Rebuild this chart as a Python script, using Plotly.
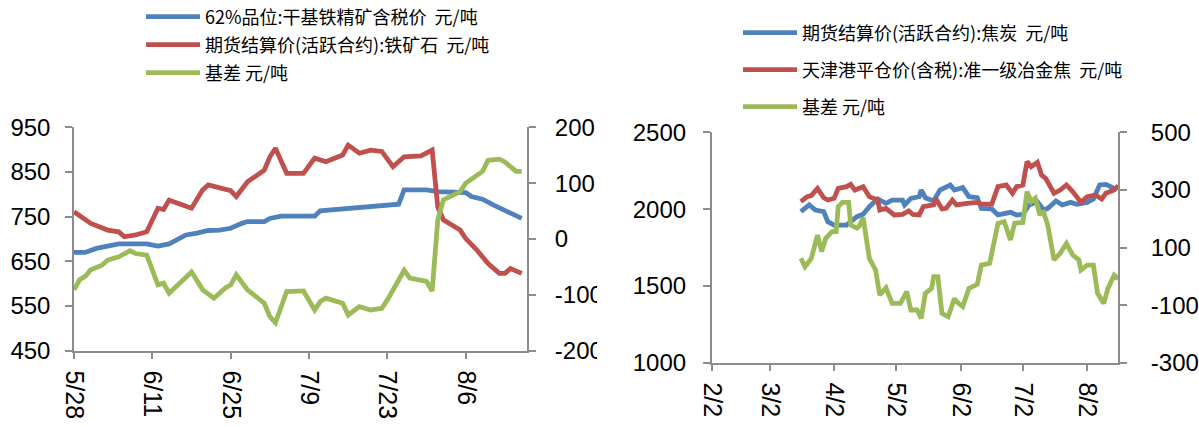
import plotly.graph_objects as go

# ---------------- Left chart: iron ore ----------------
ore_spot_dates = ["2019-05-28","2019-05-30","2019-06-01","2019-06-03","2019-06-05","2019-06-10","2019-06-12",
                  "2019-06-14","2019-06-17","2019-06-19","2019-06-21","2019-06-23","2019-06-25","2019-06-27",
                  "2019-06-28","2019-07-01","2019-07-02","2019-07-04","2019-07-10","2019-07-11","2019-07-14",
                  "2019-07-18","2019-07-23","2019-07-25","2019-07-26","2019-07-30","2019-08-01","2019-08-06",
                  "2019-08-07","2019-08-09","2019-08-11","2019-08-13","2019-08-14","2019-08-16"]
ore_spot = [670,670,679,683,689,689,684,689,709,713,719,720,724,735,739,739,746,751,751,763,766,
            770,774,778,810,810,806,804,795,789,776,765,759,746]

ore_fut_dates = ["2019-05-28","2019-05-30","2019-05-31","2019-06-03","2019-06-05","2019-06-06","2019-06-08",
                 "2019-06-10","2019-06-11","2019-06-12","2019-06-13","2019-06-14","2019-06-18","2019-06-20",
                 "2019-06-21","2019-06-24","2019-06-25","2019-06-26","2019-06-28","2019-07-01","2019-07-02",
                 "2019-07-03","2019-07-05","2019-07-08","2019-07-10","2019-07-12","2019-07-15","2019-07-16",
                 "2019-07-18","2019-07-20","2019-07-22","2019-07-24","2019-07-26","2019-07-29","2019-07-31",
                 "2019-08-01","2019-08-02","2019-08-05","2019-08-06","2019-08-08","2019-08-10","2019-08-12",
                 "2019-08-13","2019-08-14","2019-08-16"]
ore_fut = [761,743,735,720,716,705,709,716,743,769,766,787,769,810,821,810,808,795,828,854,884,
           903,847,847,881,873,888,910,892,899,896,862,884,886,899,772,743,720,701,675,645,623,
           623,634,623]

ore_basis_dates = ["2019-05-28","2019-05-29","2019-05-30","2019-05-31","2019-06-02","2019-06-03","2019-06-05",
                   "2019-06-07","2019-06-08","2019-06-10","2019-06-12","2019-06-13","2019-06-14","2019-06-18",
                   "2019-06-20","2019-06-22","2019-06-24","2019-06-25","2019-06-26","2019-06-28","2019-07-01",
                   "2019-07-02","2019-07-03","2019-07-05","2019-07-08","2019-07-10","2019-07-11","2019-07-12",
                   "2019-07-15","2019-07-16","2019-07-18","2019-07-20","2019-07-22","2019-07-23","2019-07-26",
                   "2019-07-27","2019-07-30","2019-07-31","2019-08-01","2019-08-02","2019-08-05","2019-08-06",
                   "2019-08-09","2019-08-10","2019-08-12","2019-08-13","2019-08-15","2019-08-16"]
ore_basis = [-91,-73,-67,-55,-47,-38,-32,-21,-26,-29,-82,-79,-97,-59,-91,-106,-88,-82,-64,-91,-115,
             -139,-150,-94,-93,-127,-112,-106,-115,-136,-121,-127,-124,-109,-56,-70,-76,-93,34,70,85,100,
             121,141,143,138,121,121]

# ---------------- Right chart: coke ----------------
coke_fut_dates = ["2019-03-17","2019-03-21","2019-03-24","2019-03-28","2019-03-30","2019-04-02","2019-04-08",
                  "2019-04-13","2019-04-16","2019-04-19","2019-04-23","2019-04-27","2019-04-30","2019-05-05",
                  "2019-05-06","2019-05-09","2019-05-13","2019-05-14","2019-05-16","2019-05-20","2019-05-23",
                  "2019-05-28","2019-05-30","2019-06-03","2019-06-06","2019-06-10","2019-06-12","2019-06-17",
                  "2019-06-20","2019-06-26","2019-06-29","2019-07-02","2019-07-05","2019-07-09","2019-07-12",
                  "2019-07-14","2019-07-18","2019-07-21","2019-07-25","2019-07-28","2019-08-02","2019-08-05",
                  "2019-08-08","2019-08-11","2019-08-15"]
coke_fut = [1983,2027,1994,1983,1918,1896,1896,1951,1966,2016,2066,2038,2059,2059,2027,2070,2081,
            2124,2074,2053,2124,2157,2124,2140,2081,2074,2005,2001,1962,1979,1962,1966,2027,2048,
            1994,2005,2053,2027,2044,2031,2044,2066,2157,2161,2135]

coke_spot_dates = ["2019-03-17","2019-03-20","2019-03-22","2019-03-25","2019-03-28","2019-03-30","2019-04-02",
                   "2019-04-04","2019-04-08","2019-04-10","2019-04-12","2019-04-16","2019-04-19","2019-04-23",
                   "2019-04-24","2019-04-27","2019-05-01","2019-05-05","2019-05-08","2019-05-10","2019-05-13",
                   "2019-05-15","2019-05-20","2019-05-21","2019-05-24","2019-05-26","2019-05-29","2019-05-31",
                   "2019-06-05","2019-06-10","2019-06-12","2019-06-17","2019-06-20","2019-06-24","2019-06-27",
                   "2019-06-29","2019-07-02","2019-07-04","2019-07-06","2019-07-09","2019-07-11","2019-07-13",
                   "2019-07-17","2019-07-20","2019-07-23","2019-07-26","2019-07-30","2019-08-02","2019-08-06",
                   "2019-08-09","2019-08-11","2019-08-15","2019-08-17"]
coke_spot = [2048,2081,2088,2135,2074,2059,2070,2135,2146,2161,2124,2146,2081,2059,1994,2005,1962,
             1966,1988,1965,1962,2016,2027,2070,2001,2005,2059,2027,2038,2044,2033,2033,2146,2157,
             2103,2146,2157,2309,2276,2305,2222,2200,2103,2124,2157,2114,2044,2081,2092,2066,2103,
             2124,2153]

coke_basis_dates = ["2019-03-17","2019-03-19","2019-03-22","2019-03-25","2019-03-27","2019-03-29","2019-04-01",
                    "2019-04-03","2019-04-04","2019-04-06","2019-04-09","2019-04-10","2019-04-13","2019-04-14",
                    "2019-04-16","2019-04-18","2019-04-19","2019-04-22","2019-04-24","2019-04-27","2019-04-30",
                    "2019-05-04","2019-05-07","2019-05-09","2019-05-12","2019-05-14","2019-05-16","2019-05-19",
                    "2019-05-20","2019-05-22","2019-05-24","2019-05-27","2019-05-30","2019-05-31","2019-06-03",
                    "2019-06-06","2019-06-10","2019-06-12","2019-06-16","2019-06-20","2019-06-23","2019-06-26",
                    "2019-06-28","2019-07-02","2019-07-04","2019-07-06","2019-07-08","2019-07-10","2019-07-12",
                    "2019-07-14","2019-07-17","2019-07-20","2019-07-23","2019-07-26","2019-07-29","2019-07-30",
                    "2019-08-02","2019-08-05","2019-08-07","2019-08-10","2019-08-12","2019-08-15","2019-08-17"]
coke_basis = [62,33,62,143,86,132,155,155,242,257,257,178,167,172,204,120,62,22,-65,-40,-94,
              -94,-53,-117,-117,-146,-59,-42,-1,-1,-129,-140,-77,-88,-105,-42,-28,39,45,184,190,126,
              184,187,294,259,271,219,222,178,57,80,114,74,57,22,39,39,-59,-94,-42,4,-9]

left_names = ["62%品位:干基铁精矿含税价  元/吨", "期货结算价(活跃合约):铁矿石  元/吨", "基差 元/吨"]
right_names = ["期货结算价(活跃合约):焦炭  元/吨", "天津港平仓价(含税):准一级冶金焦  元/吨", "基差 元/吨"]

# tick values / labels
ore_price_ticks = [450, 550, 650, 750, 850, 950]
ore_basis_ticks = [-200, -100, 0, 100, 200]
ore_basis_labels = ["-200", "-100", "0", "100", "200"]
coke_price_ticks = [1000, 1500, 2000, 2500]
coke_basis_ticks = [-300, -100, 100, 300, 500]
coke_basis_labels = ["-300", "-100", "100", "300", "500"]

BLUE, RED, GREEN = "#4F81BD", "#C0504D", "#9BBB59"
W, H = 1199, 427
LW = 4.8
TICKFONT = dict(family="Liberation Sans, Arial, sans-serif", size=24, color="#000000")
XTICKFONT = dict(family="Liberation Sans, Arial, sans-serif", size=25, color="#000000")
AXCOL = "#8C8C8C"

fig = go.Figure()
fig.add_trace(go.Scatter(x=ore_spot_dates, y=ore_spot, mode="lines", name=left_names[0], showlegend=True,
                         line=dict(color=BLUE, width=LW), xaxis="x", yaxis="y", legend="legend"))
fig.add_trace(go.Scatter(x=ore_fut_dates, y=ore_fut, mode="lines", name=left_names[1], showlegend=True,
                         line=dict(color=RED, width=LW), xaxis="x", yaxis="y", legend="legend2"))
fig.add_trace(go.Scatter(x=ore_basis_dates, y=ore_basis, mode="lines", name=left_names[2], showlegend=True,
                         line=dict(color=GREEN, width=LW), xaxis="x", yaxis="y2", legend="legend3"))
fig.add_trace(go.Scatter(x=coke_fut_dates, y=coke_fut, mode="lines", name=right_names[0], showlegend=True,
                         line=dict(color=BLUE, width=LW), xaxis="x2", yaxis="y3", legend="legend4"))
fig.add_trace(go.Scatter(x=coke_spot_dates, y=coke_spot, mode="lines", name=right_names[1], showlegend=True,
                         line=dict(color=RED, width=LW), xaxis="x2", yaxis="y3", legend="legend5"))
fig.add_trace(go.Scatter(x=coke_basis_dates, y=coke_basis, mode="lines", name=right_names[2], showlegend=True,
                         line=dict(color=GREEN, width=LW), xaxis="x2", yaxis="y4", legend="legend6"))

def xax(domain, rng, tick0, dtick, anchor, standoff):
    return dict(domain=domain, range=rng, type="date", tick0=tick0, dtick=dtick, tickformat="%-m/%-d",
                tickangle=90, ticks="outside", ticklen=7, tickcolor=AXCOL, tickwidth=1.5,
                showline=True, linecolor=AXCOL, linewidth=1.5, showgrid=False, zeroline=False,
                tickfont=XTICKFONT, anchor=anchor, ticklabelstandoff=standoff, automargin=False)

def yax(domain, rng, tickvals, ticktext, anchor, side="left", overlaying=None, standoff=14):
    d = dict(domain=domain, range=rng, tickmode="array", tickvals=tickvals, ticktext=ticktext,
             ticks="outside", ticklen=7,
             tickcolor=AXCOL, tickwidth=1.5, showline=True, linecolor=AXCOL, linewidth=1.5,
             showgrid=False, zeroline=False, tickfont=TICKFONT, anchor=anchor, side=side,
             ticklabelstandoff=standoff, automargin=False)
    if overlaying:
        d["overlaying"] = overlaying
    return d

ly0, ly1 = (H - 350.7) / H, (H - 127.3) / H
ry0, ry1 = (H - 362.7) / H, (H - 132.3) / H

def leg(xpix, ypix, size):
    return dict(x=xpix / W, y=1 - ypix / H, xanchor="left", yanchor="middle",
                font=dict(family="Noto Sans CJK SC, sans-serif", size=size, color="#000000"),
                bgcolor="rgba(0,0,0,0)", borderwidth=0, itemwidth=54)

fig.update_layout(
    width=W, height=H, autosize=False, showlegend=True,
    margin=dict(l=0, r=0, t=0, b=0, autoexpand=False),
    paper_bgcolor="white", plot_bgcolor="white",
    xaxis=xax([74 / W, 527.3 / W], ["2019-05-28", "2019-08-17"], "2019-05-28", 14 * 86400000, "y", 6),
    yaxis=yax([ly0, ly1], [450, 950], ore_price_ticks, [str(v) for v in ore_price_ticks], "x", standoff=10),
    yaxis2=yax([ly0, ly1], [-200, 200], ore_basis_ticks, ore_basis_labels, "x", side="right",
               overlaying="y", standoff=14),
    xaxis2=xax([711.7 / W, 1118.3 / W], ["2019-02-02", "2019-08-17"], "2019-02-02", "M1", "y3", 6),
    yaxis3=yax([ry0, ry1], [1000, 2500], coke_price_ticks, [str(v) for v in coke_price_ticks], "x2",
               standoff=12),
    yaxis4=yax([ry0, ry1], [-300, 500], coke_basis_ticks, coke_basis_labels, "x2", side="right",
               overlaying="y3", standoff=19),
    legend=leg(141, 17, 18), legend2=leg(141, 45, 18), legend3=leg(141, 73, 18),
    legend4=leg(738, 33, 18), legend5=leg(738, 70, 18), legend6=leg(738, 107, 18),
    shapes=[dict(type="rect", xref="paper", yref="paper", x0=597 / W, x1=616 / W,
                 y0=0.12, y1=0.75, fillcolor="white", line=dict(width=0), layer="above")],
)

fig.write_html("out.html")
